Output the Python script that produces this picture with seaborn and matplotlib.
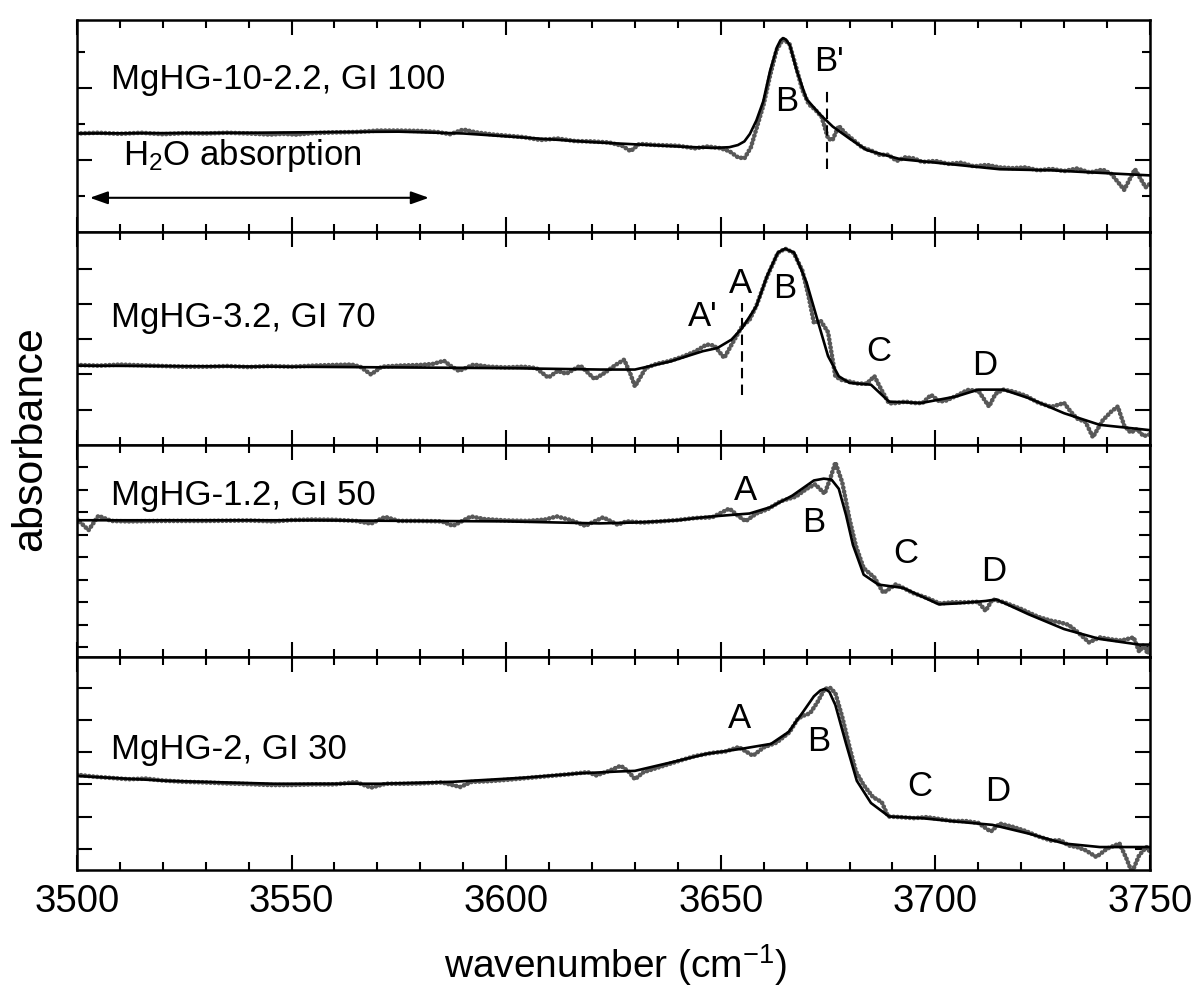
import numpy as np
import pandas as pd
import matplotlib
matplotlib.use("Agg")
import matplotlib.pyplot as plt
from matplotlib.ticker import MultipleLocator, FixedLocator
import seaborn as sns

# ---------------- spectra (wavenumber in cm^-1, absorbance in arbitrary units) -------------
# MgHG-10-2.2, GI 100
fit1_x = [3500, 3520, 3540, 3560, 3575, 3590, 3600, 3610, 3620, 3630, 3640, 3648, 3652, 3654,
          3655.5, 3656.8, 3658.3, 3659.9, 3661.5, 3663.1, 3663.9, 3664.5, 3665.2, 3666.1,
          3667.7, 3670, 3673.1, 3676.1, 3680.1, 3684, 3691.8, 3699.4, 3715, 3727, 3740, 3750]
fit1_y = [2.74, 2.75, 2.76, 2.78, 2.79, 2.74, 2.66, 2.58, 2.50, 2.44, 2.38, 2.34, 2.36, 2.42,
          2.52, 2.73, 3.10, 3.63, 4.48, 5.13, 5.32, 5.38, 5.34, 5.18,
          4.48, 3.69, 3.27, 2.93, 2.59, 2.28, 2.03, 1.94, 1.75, 1.72, 1.64, 1.58]
dat1_x = [3500, 3505, 3510, 3515, 3520, 3525, 3530, 3535, 3540, 3545, 3548, 3551, 3555, 3560,
          3565, 3570, 3575, 3580, 3584, 3587, 3590, 3593, 3597, 3600, 3604, 3608, 3612, 3616,
          3620, 3624, 3627, 3629, 3631, 3635, 3640, 3644, 3647, 3650, 3652, 3654, 3655.5, 3657,
          3658.5, 3660, 3661.5, 3663, 3664.5, 3666, 3667.5, 3669, 3670.5, 3672, 3673.5, 3675,
          3676, 3677.5, 3679, 3681, 3683, 3685, 3687, 3689, 3691, 3693, 3695, 3697, 3700, 3703,
          3706, 3709, 3712, 3715, 3718, 3721, 3724, 3727, 3730, 3733, 3736, 3739, 3741, 3744,
          3746.5, 3748, 3749, 3750]
dat1_y = [2.74, 2.76, 2.73, 2.76, 2.72, 2.75, 2.74, 2.76, 2.74, 2.71, 2.73, 2.71, 2.75, 2.77,
          2.78, 2.82, 2.82, 2.81, 2.78, 2.72, 2.85, 2.77, 2.71, 2.68, 2.64, 2.56, 2.60, 2.53,
          2.52, 2.49, 2.40, 2.25, 2.45, 2.42, 2.40, 2.33, 2.38, 2.33, 2.25, 2.08, 2.05, 2.35,
          2.95, 3.55, 4.35, 5.05, 5.35, 5.22, 4.60, 3.95, 3.55, 3.40, 3.20, 2.60,
          2.55, 2.95, 2.75, 2.55, 2.35, 2.27, 2.15, 2.15, 1.98, 2.08, 2.05, 1.95, 1.98, 1.90,
          1.93, 1.83, 1.87, 1.80, 1.78, 1.80, 1.72, 1.76, 1.70, 1.77, 1.66, 1.74, 1.62, 1.18,
          1.75, 1.45, 1.25, 1.35]

# MgHG-3.2, GI 70
fit2_x = [3500, 3550, 3600, 3622, 3630, 3638.3, 3645.8, 3649.2, 3652.5, 3655, 3658.3, 3660.8,
          3663.3, 3665, 3667.1, 3670, 3672.5, 3675, 3677.5, 3680, 3685, 3689.2, 3696.7, 3705,
          3710, 3715.8, 3721.7, 3730, 3738.3, 3749.2, 3750]
fit2_y = [2.25, 2.22, 2.18, 2.14, 2.14, 2.37, 2.66, 2.75, 2.99, 3.32, 3.94, 4.80,
          5.46, 5.57, 5.46, 4.61, 3.56, 2.52, 1.95, 1.76, 1.71, 1.23, 1.19, 1.38,
          1.57, 1.57, 1.33, 0.90, 0.57, 0.43, 0.42]
dat2_x = [3500, 3505, 3510, 3515, 3520, 3525, 3530, 3535, 3540, 3545, 3550, 3555, 3560, 3564,
          3566, 3568.5, 3571, 3575, 3580, 3583, 3585.5, 3587, 3589, 3592.4, 3596, 3600, 3604,
          3607, 3609.8, 3612, 3614, 3617.3, 3620.6, 3623, 3625.6, 3627.5, 3629, 3630, 3632.5,
          3635, 3638, 3641, 3644, 3646.7, 3648.5, 3650.8, 3653, 3655, 3656.7, 3658.3, 3660.8,
          3663.3, 3665, 3667, 3669, 3670.5, 3671.7, 3673.3, 3675, 3676.7, 3678, 3680, 3682,
          3684, 3685.8, 3687.5, 3689.2, 3691, 3693, 3695, 3697, 3699, 3701, 3702.5, 3705,
          3707.5, 3710, 3712.5, 3714, 3715.8, 3718, 3721, 3724, 3727, 3730, 3731.5, 3733, 3735,
          3736.7, 3739, 3741, 3742.5, 3744, 3745.5, 3747, 3748.5, 3750]
dat2_y = [2.27, 2.25, 2.28, 2.26, 2.24, 2.22, 2.22, 2.24, 2.21, 2.24, 2.22, 2.25, 2.27, 2.28,
          2.22, 2.00, 2.22, 2.25, 2.27, 2.30, 2.39, 2.25, 2.10, 2.28, 2.22, 2.20, 2.22,
          2.18, 1.91, 2.10, 2.02, 2.25, 1.87, 2.05, 2.28, 2.42, 2.00, 1.66, 2.18,
          2.30, 2.38, 2.50, 2.65, 2.85, 2.82, 2.47, 2.95, 3.37, 3.55, 3.95, 4.78,
          5.45, 5.57, 5.45, 4.95, 4.20, 3.47, 3.52, 3.20, 1.95, 1.85, 1.80, 1.74,
          1.74, 1.95, 1.55, 1.18, 1.19, 1.23, 1.19, 1.19, 1.42, 1.23, 1.26, 1.40,
          1.56, 1.54, 1.09, 1.45, 1.57, 1.52, 1.40, 1.20, 1.08, 1.19, 0.95, 0.75, 0.65,
          0.22, 0.70, 0.95, 1.09, 0.55, 0.35, 0.45, 0.25, 0.30]

# MgHG-1.2, GI 50
fit3_x = [3500, 3550, 3600, 3621.7, 3630, 3640, 3646.7, 3656.7, 3661.7, 3666.7, 3671.7, 3674,
          3675.8, 3677.5, 3679.2, 3680.8, 3683.3, 3686.7, 3692.5, 3700.8, 3705, 3711.7, 3714.2,
          3721.7, 3730, 3738.3, 3747.5, 3750]
fit3_y = [5.65, 5.65, 5.60, 5.51, 5.55, 5.65, 5.80, 5.95, 6.24, 6.75, 7.42, 7.50,
          7.46, 7.05, 5.87, 4.55, 3.23, 2.79, 2.64, 1.91, 1.95, 2.06, 2.13,
          1.47, 0.81, 0.37, 0.12, 0.12]
dat3_x = [3500, 3502.7, 3505, 3508, 3512, 3520, 3530, 3540, 3546, 3550, 3555, 3560, 3565,
          3568.5, 3571.8, 3575, 3580, 3585, 3587.6, 3591.8, 3595, 3600, 3605, 3609, 3611.8,
          3615, 3618.5, 3620, 3622.6, 3626, 3628, 3632, 3636, 3640, 3644, 3648, 3652, 3654,
          3655.8, 3658.3, 3661, 3664, 3667.5, 3670, 3672, 3674.2, 3675.5, 3676.7, 3678.3, 3680,
          3681.5, 3683.3, 3685.8, 3687.9, 3690.8, 3692.5, 3695, 3698, 3701, 3704, 3707, 3710,
          3711.7, 3713.3, 3716, 3720, 3724, 3727, 3729.2, 3731, 3733, 3735.8, 3738.3, 3741,
          3743.3, 3746.2, 3747.5, 3748.5, 3749.5, 3750]
dat3_y = [5.70, 5.21, 5.85, 5.62, 5.60, 5.62, 5.62, 5.64, 5.60, 5.66, 5.68, 5.67, 5.62,
          5.50, 5.80, 5.62, 5.62, 5.60, 5.40, 5.82, 5.70, 5.64, 5.62, 5.68, 5.82,
          5.66, 5.40, 5.55, 5.78, 5.45, 5.60, 5.55, 5.60, 5.66, 5.75, 5.78, 6.17, 5.85,
          5.61, 5.95, 6.15, 6.50, 6.70, 7.05, 7.25, 6.83, 7.50, 8.22, 7.34, 5.70,
          4.50, 3.52, 3.10, 2.42, 2.80, 2.64, 2.40, 2.20, 1.95, 2.00, 2.00, 2.02,
          1.62, 2.13, 2.00, 1.70, 1.35, 1.18, 1.10, 1.00, 0.70, 0.22, 0.44, 0.35,
          0.30, 0.44, -0.20, 0.10, -0.29, 0.05]

# MgHG-2, GI 30
fit4_x = [3500, 3521, 3546, 3571, 3587.6, 3604.3, 3616.8, 3626, 3630, 3638.3, 3646.7, 3655,
          3661.7, 3665.8, 3669.2, 3671.7, 3673.2, 3674.2, 3675.3, 3676.7, 3679.2, 3681.7, 3685,
          3689.2, 3696.7, 3705, 3713.3, 3721.7, 3730, 3738.3, 3750]
fit4_y = [2.26, 2.11, 2.02, 2.02, 2.08, 2.21, 2.34, 2.40, 2.42, 2.68, 2.95, 3.11,
          3.26, 3.63, 4.26, 4.74, 4.92, 4.97, 4.88, 4.47, 3.26, 2.11, 1.42,
          1.00, 0.95, 0.84, 0.74, 0.47, 0.16, 0.05, 0.05]
dat4_x = [3500, 3504, 3508, 3512, 3516, 3520, 3525, 3530, 3535, 3540, 3545, 3550, 3555, 3560,
          3565, 3568.5, 3572, 3576, 3580, 3585, 3589.3, 3592, 3596, 3600, 3605, 3610, 3615,
          3619, 3621, 3624, 3626.7, 3628.5, 3630, 3632, 3636, 3640, 3644, 3648, 3651, 3654.2,
          3657.5, 3660, 3663, 3666, 3668, 3669.5, 3670.8, 3672.5, 3674.2, 3675.5, 3676.7,
          3678.3, 3680, 3681.5, 3683.3, 3685.5, 3687.5, 3689, 3692, 3695, 3698, 3701, 3704,
          3707, 3710, 3712.9, 3715, 3718, 3721, 3724, 3727, 3729.2, 3731, 3733, 3735, 3737.5,
          3740, 3742.9, 3744.5, 3745.8, 3747.5, 3749.2, 3750]
dat4_y = [2.30, 2.24, 2.20, 2.16, 2.18, 2.12, 2.08, 2.06, 2.03, 2.01, 1.98, 1.98, 2.00, 2.00,
          2.07, 1.90, 2.02, 2.02, 2.03, 2.06, 1.92, 2.08, 2.10, 2.14, 2.20, 2.26, 2.32,
          2.38, 2.28, 2.42, 2.58, 2.40, 2.16, 2.38, 2.55, 2.72, 2.88, 2.98, 3.02, 3.16,
          2.89, 3.15, 3.30, 3.62, 4.05, 4.15, 4.21, 4.55, 4.97, 5.00, 4.84,
          4.10, 3.16, 2.40, 1.98, 1.60, 1.45, 1.00, 0.98, 0.95, 0.98, 0.92, 0.86,
          0.86, 0.80, 0.53, 0.78, 0.68, 0.55, 0.38, 0.25, 0.26, 0.10, 0.05, -0.05, -0.26,
          0.00, 0.16, -0.30, -0.74, -0.20, 0.05, -0.10]

sample_labels = ["MgHG-10-2.2, GI 100", "MgHG-3.2, GI 70", "MgHG-1.2, GI 50", "MgHG-2, GI 30"]
x_tick_labels = ["3500", "3550", "3600", "3650", "3700", "3750"]

# --------------------------------- styling ---------------------------------
sns.set_theme(style="ticks")
plt.rcParams["font.family"] = ["Liberation Sans", "DejaVu Sans"]
plt.rcParams["mathtext.fontset"] = "custom"
plt.rcParams["mathtext.rm"] = "Liberation Sans"
plt.rcParams["mathtext.it"] = "Liberation Sans"
plt.rcParams["mathtext.default"] = "rm"
plt.rcParams["text.color"] = "black"
plt.rcParams["axes.labelcolor"] = "black"
plt.rcParams["xtick.color"] = "black"
plt.rcParams["ytick.color"] = "black"

fig, axes = plt.subplots(4, 1, figsize=(11.97, 10.01), dpi=100, sharex=True)
fig.subplots_adjust(left=0.0643, right=0.9607, top=0.980, bottom=0.131, hspace=0)

panels = [
    (fit1_x, fit1_y, dat1_x, dat1_y, (0.0, 5.88)),
    (fit2_x, fit2_y, dat2_x, dat2_y, (0.0, 6.03)),
    (fit3_x, fit3_y, dat3_x, dat3_y, (-0.45, 9.0)),
    (fit4_x, fit4_y, dat4_x, dat4_y, (-0.66, 5.95)),
]
label_heights = [3.97, 3.35, 6.31, 2.79]

FS_LAB = 25
for ax, (fx, fy, dx, dy, ylim), lab, yb in zip(axes, panels, sample_labels, label_heights):
    dat = pd.DataFrame({"wn": dx, "abs": dy})
    fit = pd.DataFrame({"wn": fx, "abs": fy})
    # measured spectrum: closely spaced grey dots
    sns.lineplot(data=dat, x="wn", y="abs", ax=ax, color="#585858", lw=3.4,
                 linestyle=(0, (0.01, 0.85)), dash_capstyle="round",
                 estimator=None, sort=False, zorder=2)
    # fitted envelope
    sns.lineplot(data=fit, x="wn", y="abs", ax=ax, color="black", lw=1.9,
                 estimator=None, sort=False, zorder=3)
    ax.set_xlim(3500, 3750)
    ax.set_ylim(*ylim)
    ax.set_xlabel("")
    ax.set_ylabel("")
    ax.xaxis.set_major_locator(MultipleLocator(50))
    ax.xaxis.set_minor_locator(MultipleLocator(10))
    ax.tick_params(axis="both", which="both", direction="in", top=True, right=True,
                   labelleft=False, color="black")
    ax.tick_params(axis="both", which="major", length=10.5, width=1.5)
    ax.tick_params(axis="both", which="minor", length=5.5, width=1.5)
    for sp in ax.spines.values():
        sp.set_linewidth(1.8)
        sp.set_color("black")
    ax.text(3508, yb, lab, fontsize=FS_LAB, ha="left", va="baseline")

# y ticks of each panel
axes[0].yaxis.set_major_locator(FixedLocator([2, 4]))
axes[0].yaxis.set_minor_locator(FixedLocator([1, 3, 5]))
axes[1].yaxis.set_major_locator(FixedLocator([1, 2, 3, 4, 5]))
axes[1].yaxis.set_minor_locator(FixedLocator([]))
axes[2].yaxis.set_major_locator(FixedLocator(list(range(0, 9))))
axes[2].yaxis.set_minor_locator(FixedLocator([]))
axes[2].tick_params(axis="y", which="major", length=8)
axes[3].yaxis.set_major_locator(FixedLocator([0, 1, 2, 3, 4, 5]))
axes[3].yaxis.set_minor_locator(FixedLocator([]))

# panel 1 annotations
a = axes[0]
a.text(3510.7, 1.88, "H$_2$O absorption", fontsize=FS_LAB, ha="left", va="baseline")
a.annotate("", xy=(3503, 0.96), xytext=(3582, 0.96),
           arrowprops=dict(arrowstyle="<|-|>,head_length=0.9,head_width=0.32",
                           color="black", lw=1.5, shrinkA=0, shrinkB=0))
a.text(3665.4, 3.35, "B", fontsize=FS_LAB, ha="center", va="baseline")
a.text(3675.3, 4.48, "B'", fontsize=FS_LAB, ha="center", va="baseline")
a.plot([3674.8, 3674.8], [1.75, 4.0], color="black", lw=1.5, ls=(0, (5, 3)))

# panel 2 annotations
a = axes[1]
for t, x, y in [("A'", 3645.8, 3.37), ("A", 3654.6, 4.32), ("B", 3665.0, 4.18),
                ("C", 3686.7, 2.37), ("D", 3711.5, 1.99)]:
    a.text(x, y, t, fontsize=FS_LAB, ha="center", va="baseline")
a.plot([3655, 3655], [1.42, 4.04], color="black", lw=1.5, ls=(0, (5, 3)))

# panel 3 annotations
a = axes[2]
for t, x, y in [("A", 3655.8, 6.53), ("B", 3671.7, 5.14), ("C", 3693.1, 3.74),
                ("D", 3713.6, 2.94)]:
    a.text(x, y, t, fontsize=FS_LAB, ha="center", va="baseline")

# panel 4 annotations
a = axes[3]
for t, x, y in [("A", 3654.3, 3.74), ("B", 3672.7, 3.05), ("C", 3696.4, 1.63),
                ("D", 3714.6, 1.47)]:
    a.text(x, y, t, fontsize=FS_LAB, ha="center", va="baseline")

axes[3].set_xticks([int(s) for s in x_tick_labels])
axes[3].set_xticklabels(x_tick_labels, fontsize=27.5)
axes[3].tick_params(axis="x", which="major", pad=10)

fig.text(0.514, 0.036, "wavenumber (cm$^{-1}$)", fontsize=28, ha="center", va="center")
fig.text(0.025, 0.562, "absorbance", fontsize=31, ha="center", va="center", rotation=90)

fig.savefig("out.png", dpi=100)
